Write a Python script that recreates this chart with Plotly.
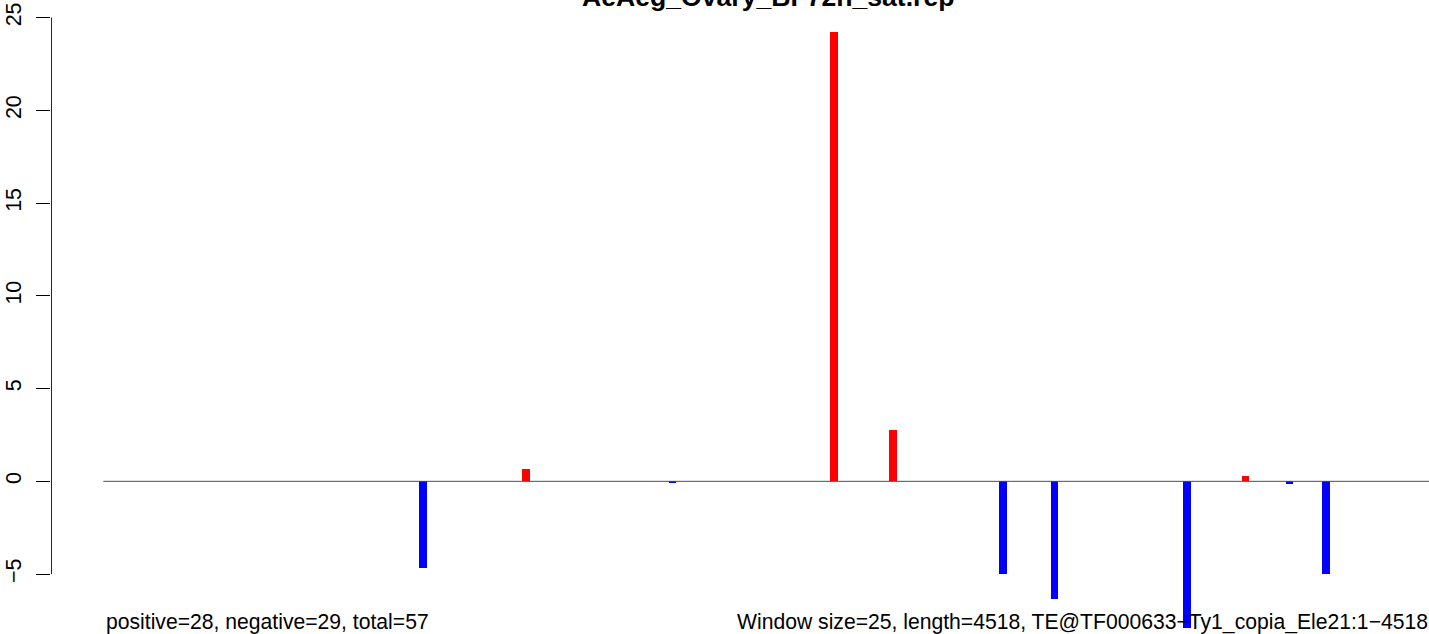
import plotly.graph_objects as go

# ---- data ----
title = "AeAeg_Ovary_BF72h_sat.rep"
window_size = 25
te_length = 4518
window_index = [44, 58, 78, 100, 108, 123, 130, 148, 156, 162, 167]
values = [-4.66, 0.66, -0.09, 24.22, 2.77, -4.98, -6.33, -7.92, 0.29, -0.15, -4.98]
ytick_vals = [-5, 0, 5, 10, 15, 20, 25]
left_note = "positive=28, negative=29, total=57"
right_note = "Window size=25, length=4518, TE@TF000633\u2212Ty1_copia_Ele21:1\u22124518"

positions = [(k - 0.5) * window_size for k in window_index]
colors = ["#FF0000" if v > 0 else "#0000FF" for v in values]

FONT = "Liberation Sans, Arial, Helvetica, sans-serif"
W, H = 1429, 634
L = 51
x_range = [-178.0, 4512.0]
y_range = [-8.23, 25.95]

fig = go.Figure()
fig.add_trace(go.Bar(
    x=positions, y=values, width=26.2,
    marker=dict(color=colors, line=dict(width=0)),
    hoverinfo="x+y", showlegend=False,
))

# zero reference line across the element
fig.add_shape(type="line", xref="x", yref="y", x0=0, x1=te_length, y0=0, y1=0,
              line=dict(color="#4d4d4d", width=1), layer="above")
# y axis line spanning the tick range only
fig.add_shape(type="line", xref="x", yref="y",
              x0=x_range[0] + 1.2, x1=x_range[0] + 1.2,
              y0=ytick_vals[0], y1=ytick_vals[-1],
              line=dict(color="black", width=1), layer="above")

fig.update_layout(
    width=W, height=H,
    margin=dict(l=L, r=0, t=0, b=0, pad=0),
    paper_bgcolor="white", plot_bgcolor="white",
    font=dict(family=FONT, color="black"),
    bargap=0,
    xaxis=dict(range=x_range, visible=False, showgrid=False, zeroline=False, fixedrange=True),
    yaxis=dict(range=y_range, showgrid=False, zeroline=False, showline=False,
               tickmode="array", tickvals=ytick_vals,
               ticktext=[str(v) if v >= 0 else "\u2212" + str(-v) for v in ytick_vals],
               ticks="outside", ticklen=14, tickwidth=1, tickcolor="black",
               tickangle=-90, tickfont=dict(size=21.5, family=FONT, color="black"),
               ticklabelstandoff=6, fixedrange=True),
    annotations=[
        dict(text="<b>" + title + "</b>", xref="paper", yref="paper",
             x=(768 - L) / (W - L), y=1.0052, xanchor="center", yanchor="middle",
             showarrow=False, font=dict(size=26.6, family=FONT, color="black")),
        dict(text=left_note, xref="paper", yref="paper",
             x=(104 - L) / (W - L), y=1 - 621.5 / H, xanchor="left", yanchor="middle",
             showarrow=False, font=dict(size=21.15, family=FONT, color="black")),
        dict(text=right_note, xref="paper", yref="paper",
             x=(735 - L) / (W - L), y=1 - 621.5 / H, xanchor="left", yanchor="middle",
             showarrow=False, font=dict(size=21.15, family=FONT, color="black")),
    ],
)

fig.write_html(
    "out.html",
    config={"displayModeBar": False},
    post_script="document.body.style.margin='0';document.body.style.overflow='hidden';",
)
